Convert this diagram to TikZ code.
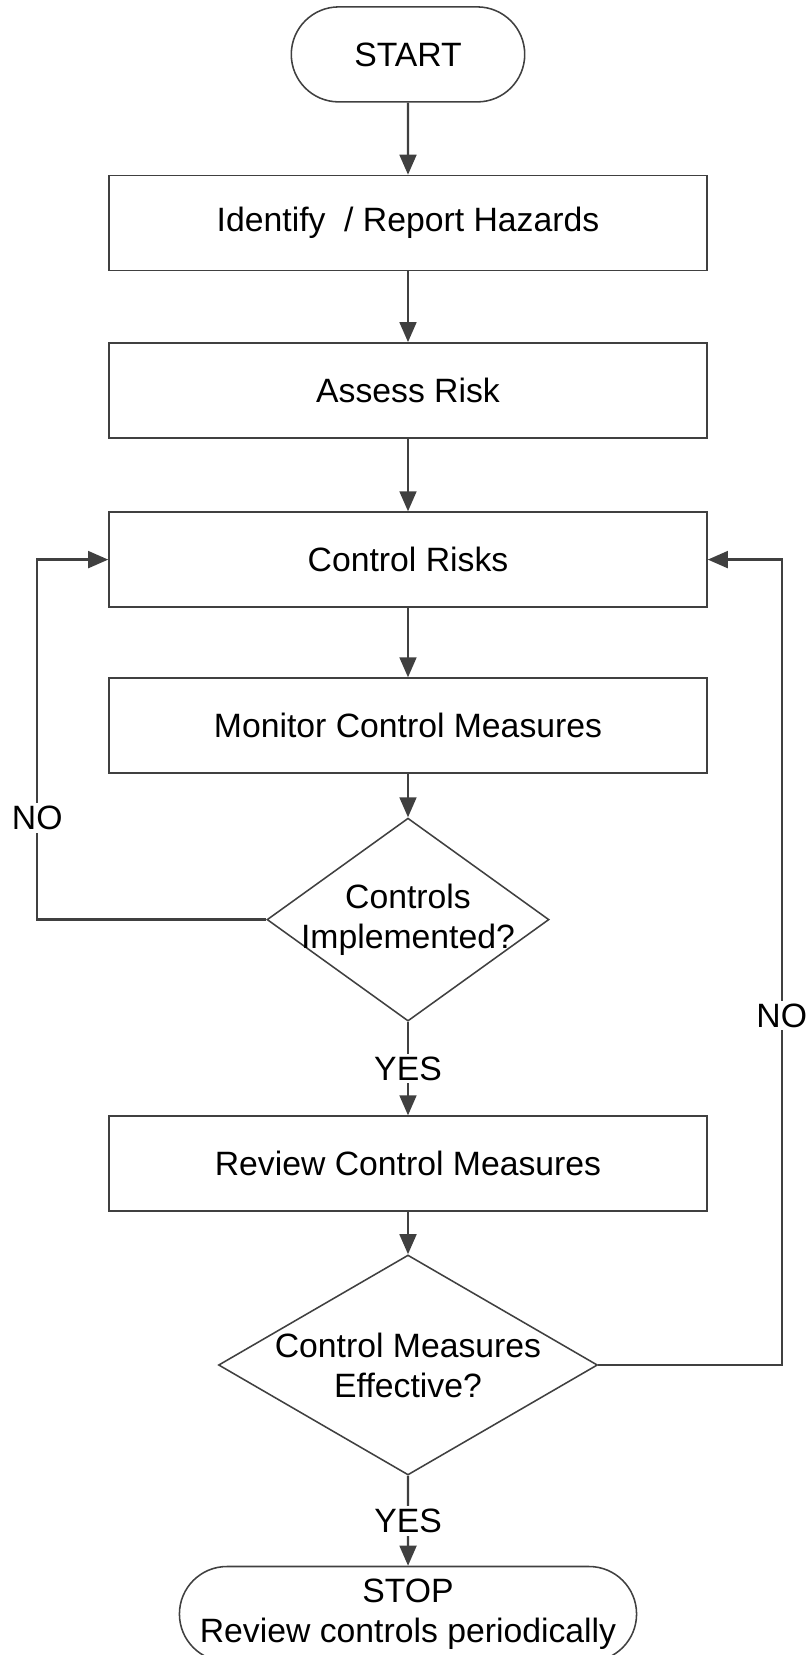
\documentclass[tikz,border=0pt]{standalone}
\usepackage{fontspec}
\setmainfont{Liberation Sans}
\usetikzlibrary{calc,shapes.geometric,shapes.misc,arrows.meta}

\begin{document}
\begin{tikzpicture}[
  font=\fontsize{24}{28.5}\selectfont,
  stepbox/.style={draw=black!75,line width=1.1pt,minimum width=14.95cm,minimum height=2.375cm},
  term/.style={draw=black!75,line width=1.1pt,rounded rectangle,minimum height=2.375cm,align=center},
  decide/.style={draw=black!75,line width=1.1pt,diamond,inner sep=0pt},
  flow/.style={draw=black!75,line width=1.7pt,-{Triangle[length=0.5cm,width=0.42cm]}},
  lbl/.style={fill=white,inner sep=2pt}
]
\useasboundingbox (0,0) rectangle (20.15,-41.375);
\node[term,minimum width=6.07cm] (start) at (10.2,-1.36) {START};
\node[stepbox] (ident) at (10.2,-5.575) {Identify\ \ / Report Hazards};
\node[stepbox] (assess) at (10.2,-9.76) {Assess Risk};
\node[stepbox] (ctrl) at (10.2,-13.99) {Control Risks};
\node[stepbox] (monitor) at (10.2,-18.14) {Monitor Control Measures};
\node[decide,aspect=1.39,minimum width=7.05cm,minimum height=5.075cm,
  label={[align=center]center:Controls\\Implemented?}] (impl) at (10.2,-22.99) {};
\node[stepbox] (review) at (10.2,-29.09) {Review Control Measures};
\node[decide,aspect=1.72,minimum width=9.475cm,minimum height=5.5cm,
  label={[align=center]center:Control Measures\\Effective?}] (eff) at (10.2,-34.125) {};
\node[term,minimum width=11.4cm] (stop) at (10.2,-40.35) {STOP\\Review controls periodically};
\draw[flow] (start) -- (ident);
\draw[flow] (ident) -- (assess);
\draw[flow] (assess) -- (ctrl);
\draw[flow] (ctrl) -- (monitor);
\draw[flow] (monitor) -- (impl);
\draw[flow] (impl) -- node[lbl] {YES} (review);
\draw[flow] (review) -- (eff);
\draw[flow] (eff) -- node[lbl] {YES} (stop);
\draw[flow] (impl.west) -- ++(-5.725,0) |- node[lbl,pos=0.141] {NO} (ctrl.west);
\draw[flow] (eff.east) -- ++(4.5875,0) |- node[lbl,pos=0.217] {NO} (ctrl.east);
\end{tikzpicture}
\end{document}
